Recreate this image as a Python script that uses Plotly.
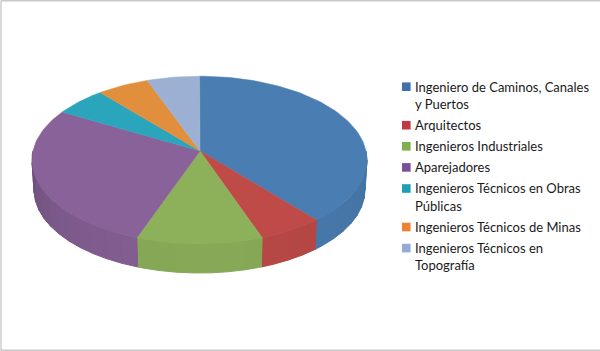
import math
import plotly.graph_objects as go

categories = ["Ingeniero de Caminos, Canales<br>y Puertos", "Arquitectos", "Ingenieros Industriales",
              "Aparejadores", "Ingenieros Técnicos en Obras<br>Públicas", "Ingenieros Técnicos de Minas",
              "Ingenieros Técnicos en<br>Topografía"]
values = [37.7, 6.2, 12.2, 28.6, 5.2, 5.05, 5.05]
face_colors = ["#4A7EB2", "#BE4B48", "#8DB05A", "#886298", "#2BA5BC", "#E28F3D", "#9BB0D2"]
key_colors = ["#3F6FAF", "#BE3A40", "#7FAF4E", "#7A4E9A", "#1C9DB8", "#EE8232", "#95ABD6"]

W, H = 600, 351
CX, CY, RX, RY = 199.5, 160.0, 167.5, 83.8
BCX, BCY, BRX, BRY = 199.5, 190.0, 165.5, 83.0
APEX = (200.0, 151.0)
STEP = 6.0


def rim(t, cx=CX, cy=CY, rx=RX, ry=RY):
    r = math.radians(t)
    return cx + rx * math.sin(r), cy - ry * math.cos(r)


def arc(a, b, **kw):
    n = max(2, int(abs(b - a) / 1.5) + 1)
    return [rim(a + (b - a) * i / (n - 1), **kw) for i in range(n)]


def shade(color, f):
    c = [int(color[i:i + 2], 16) for i in (1, 3, 5)]
    return "rgb(%d,%d,%d)" % tuple(round(v * f) for v in c)


def poly(pts, color, name, width=0.5):
    return go.Scatter(x=[p[0] for p in pts] + [pts[0][0]], y=[p[1] for p in pts] + [pts[0][1]],
                      mode="lines", fill="toself", fillcolor=color, name=name,
                      line=dict(color=color, width=width), hoverinfo="name", showlegend=False)


total = sum(values)
bounds = [0.0]
for v in values:
    bounds.append(bounds[-1] + 360.0 * v / total)

fig = go.Figure()

# side wall
for i, name in enumerate(categories):
    a, b = max(bounds[i], 84.0), min(bounds[i + 1], 276.0)
    t = a
    while t < b:
        e = min(t + STEP, b)
        mid = (t + e) / 2
        d = abs(mid - 180) / 90
        k = 0.13 if mid > 180 else 0.04
        f = 0.955 - k * d * d
        pts = arc(t, e) + arc(e, t, cx=BCX, cy=BCY, rx=BRX, ry=BRY)
        fig.add_trace(poly(pts, shade(face_colors[i], f), name, width=1.0))
        t = e

# top face
for i, name in enumerate(categories):
    fig.add_trace(poly([APEX] + arc(bounds[i], bounds[i + 1]), face_colors[i], name))

# key
annotations = []
shapes = []
y = 87.0
LINE, GAP = 17.4, 3.7
for name, color in zip(categories, key_colors):
    lines = name.split("<br>")
    shapes.append(dict(type="rect", xref="x", yref="y", x0=402, x1=410.6, y0=y - 4.6, y1=y + 4.0,
                       fillcolor=color, line=dict(width=0)))
    for ln in lines:
        annotations.append(dict(x=412.5, y=y - 0.5, xref="x", yref="y", text=ln, showarrow=False,
                                xanchor="left", yanchor="middle", align="left",
                                font=dict(family="Lato", size=13, color="#1a1a1a")))
        y += LINE
    y += GAP

# frame
for x0, y0, x1, y1 in [(1, 0.5, 1, 351), (1, 0.8, 600, 0.8), (1, 350.2, 600, 350.2)]:
    shapes.append(dict(type="line", xref="x", yref="y", x0=x0, y0=y0, x1=x1, y1=y1,
                       line=dict(color="#C9C9C9", width=1.4)))

fig.update_layout(
    width=W, height=H, margin=dict(l=0, r=0, t=0, b=0),
    paper_bgcolor="white", plot_bgcolor="white", showlegend=False,
    xaxis=dict(range=[0, W], visible=False, fixedrange=True),
    yaxis=dict(range=[H, 0], visible=False, fixedrange=True),
    annotations=annotations, shapes=shapes,
)
fig.write_html("out.html", config=dict(displayModeBar=False),
               post_script="document.body.style.margin='0';document.documentElement.style.overflow='hidden';")
